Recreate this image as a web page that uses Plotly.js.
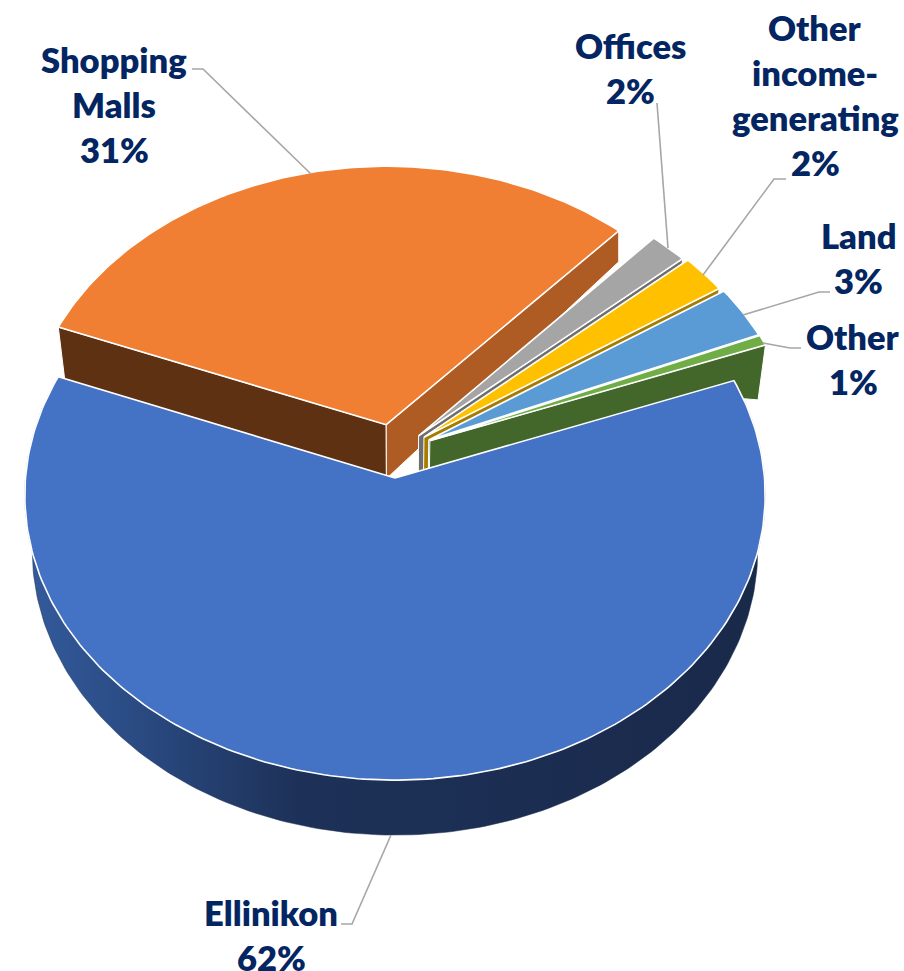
<!DOCTYPE html>
<html>
<head>
<meta charset="utf-8">
<script src="https://cdn.plot.ly/plotly-3.0.1.min.js"></script>
<style>html,body{margin:0;padding:0;background:#fff}#c{width:904px;height:971px}</style>
</head>
<body>
<div id="c"></div>
<script>
// ---- chart data (clockwise from Ellinikon) ----
const categories = ['Ellinikon', 'Shopping Malls', 'Offices', 'Other income-generating', 'Land', 'Other'];
const values = [62, 31, 1.8, 2.2, 3, 0.6];
const labelLines = [['Ellinikon'], ['Shopping', 'Malls'], ['Offices'], ['Other', 'income-', 'generating'], ['Land'], ['Other']];

// ---- styling ----
const topColors = ['#4472C4', '#F07F33', '#A5A5A5', '#FFC000', '#5B9BD5', '#70AD47'];
const wallColors = ['#1B2D50', '#AE5C23', '#6E6E6E', '#A67C00', '#33638F', '#43672A'];
const textColor = '#032662', leaderColor = '#A6A6A6';

// ---- 3D projection of the pie plane (perspective homography) ----
const view = {cx: 395, cy: 478, c: 369.5, a: 284, p: 0.06, depth: 55, xShrink: 0.98};
const startDeg = 20.5;                    // where the first slice starts, counter-clockwise from east
// explosion of each slice on the pie plane, in radii
const pullU = [0, -0.024, 0.0645, 0.079, 0.092, 0.095];
const pullV = [0, 0.190, 0.150, 0.145, 0.135, 0.132];
const radius = [1, 0.985, 1, 1, 1, 1];

function project(u, v, drop) {
  const d = 1 + view.p * v;
  const shrink = drop ? view.xShrink : 1;
  return [view.cx + shrink * view.c * u / d, view.cy - view.a * v / d + (drop || 0)];
}
const total = values.reduce((s, v) => s + v, 0);
const spans = [];
{ // clockwise sweep: angle falls as the slices advance
  let a = startDeg;
  values.forEach(v => { const e = a - 360 * v / total; spans.push([a, e]); a = e; });
}
function pt(i, deg, drop) {
  const t = deg * Math.PI / 180;
  return project(pullU[i] + radius[i] * Math.cos(t), pullV[i] + radius[i] * Math.sin(t), drop);
}
function apex(i, drop) { return project(pullU[i], pullV[i], drop); }
function arc(i, from, to, drop) {
  const n = Math.max(4, Math.ceil(Math.abs(to - from)));
  const out = [];
  for (let k = 0; k <= n; k++) out.push(pt(i, from + (to - from) * k / n, drop));
  return out;
}
function poly(points, color, extra) {
  const closed = points.concat([points[0]]);
  return Object.assign({
    type: 'scatter', mode: 'lines', x: closed.map(p => p[0]), y: closed.map(p => p[1]),
    fill: 'toself', fillcolor: color, line: {color: '#FFFFFF', width: 1.6},
    hoverinfo: 'skip', showlegend: false
  }, extra || {});
}
function line(points) {
  return {type: 'scatter', mode: 'lines', x: points.map(p => p[0]), y: points.map(p => p[1]),
    line: {color: leaderColor, width: 1.6}, hoverinfo: 'skip', showlegend: false};
}
function topFace(i) {
  return poly([apex(i)].concat(arc(i, spans[i][0], spans[i][1])), topColors[i], {name: categories[i]});
}

const traces = [];
// Shopping Malls: both cut faces, then its top
const S = 1;
traces.push(poly([apex(S), pt(S, spans[S][0]), pt(S, spans[S][0], view.depth), apex(S, view.depth - 1)], '#5F3113', {line: {color: '#FFFFFF', width: 1}}));
{
  const far = pt(S, spans[S][1]);
  traces.push(poly([apex(S), far, [far[0], far[1] + 31], apex(S, view.depth - 1)], wallColors[S], {line: {color: '#FFFFFF', width: 1}}));
}
traces.push(topFace(S));
// small slices, back to front
for (let i = 2; i < values.length; i++) {
  const end = pt(i, spans[i][1]);
  const w = [apex(i), end, pt(i, spans[i][1], view.depth)];
  if (i === values.length - 1) w.push(pt(0, spans[0][0] - 4.0));
  w.push(apex(i, view.depth));
  traces.push(poly(w, wallColors[i], {line: {color: '#FFFFFF', width: 1}}));
  traces.push(topFace(i));
}
// Ellinikon: outer wall with the reference's horizontal shading, then its top
{
  const a0 = spans[0][0], a1 = spans[0][1];
  traces.push(poly(arc(0, a0, a1).concat(arc(0, a1, a0, view.depth)), wallColors[0], {
    line: {color: '#1B2D50', width: 0.5},
    fillgradient: {type: 'horizontal', start: 25, stop: 765,
      colorscale: [[0, '#345B9C'], [0.12, '#2C4E88'], [0.37, '#1D3158'], [1, '#19294A']]}
  }));
  traces.push(topFace(0));
}
// leader lines
traces.push(line([[192, 69], [203, 69], [311, 174]]));
traces.push(line([[657, 103], [668, 248]]));
traces.push(line([[786, 179], [774, 179], [703, 275]]));
traces.push(line([[743, 315], [819, 292], [830, 292]]));
traces.push(line([[763, 343], [790, 348], [801, 348]]));
traces.push(line([[341, 924], [352, 924], [391, 835]]));

// text: one annotation per line, with the reference's 45 px leading
const labelAnchors = [[271, 912], [114, 59], [630, 45], [815, 27], [858, 235], [853, 336]];
const annotations = [];
categories.forEach((name, i) => {
  labelLines[i].concat([Math.round(values[i]) + '%']).forEach((t, k) => {
    annotations.push({
      xref: 'x', yref: 'y', x: labelAnchors[i][0], y: labelAnchors[i][1] + 45 * k,
      text: t, showarrow: false, xanchor: 'center', yanchor: 'middle',
      font: {family: 'Lato, "Open Sans", sans-serif', size: 34.5, weight: 800, color: textColor}
    });
  });
});

Plotly.newPlot('c', traces, {
  width: 904, height: 971, margin: {l: 0, r: 0, t: 0, b: 0},
  paper_bgcolor: '#FFFFFF', plot_bgcolor: '#FFFFFF', showlegend: false,
  xaxis: {range: [0, 904], visible: false, fixedrange: true},
  yaxis: {range: [971, 0], visible: false, fixedrange: true},
  annotations: annotations
}, {displayModeBar: false, staticPlot: true});
</script>
</body>
</html>
